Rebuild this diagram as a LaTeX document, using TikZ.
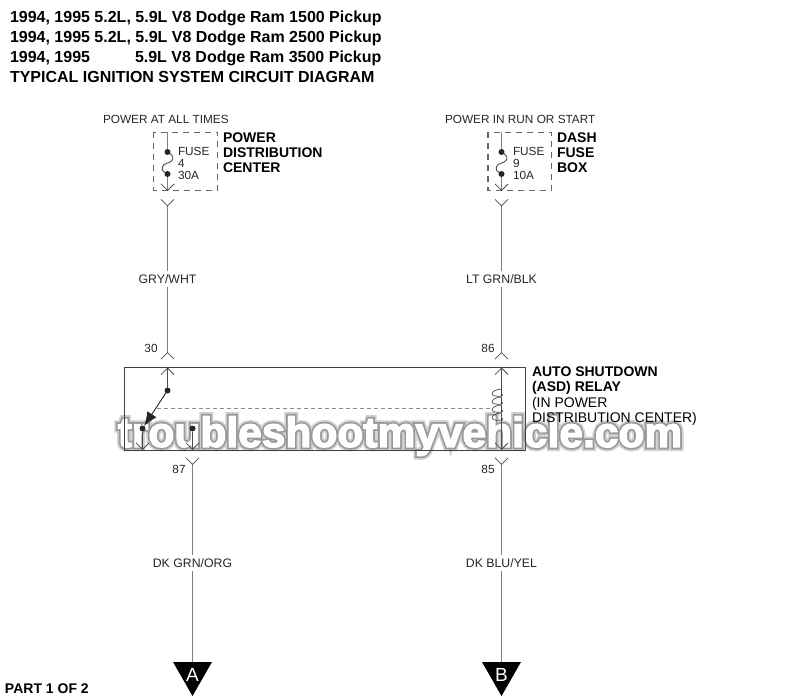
\documentclass[tikz,border=0pt]{standalone}
\usepackage{fontspec}
\setmainfont{Liberation Sans}
\newfontface\wmouter[FakeBold=19]{Liberation Sans Bold}
\newfontface\wminner[FakeBold=11]{Liberation Sans Bold}
\newfontface\wmcore[FakeBold=3]{Liberation Sans Bold}
\usetikzlibrary{arrows.meta,calc}

\tikzstyle{every node}+=[inner sep=0pt,outer sep=0pt]
\tikzstyle{heading}=[anchor=mid west,yshift=-3pt,font=\fontsize{16}{18}\selectfont\bfseries]
\tikzstyle{boldtext}=[anchor=mid west,yshift=-3pt,font=\fontsize{14}{16}\selectfont\bfseries]
\tikzstyle{plaintext}=[anchor=mid west,yshift=-3pt,font=\fontsize{14}{16}\selectfont]
\tikzstyle{smalltext}=[font=\fontsize{11.8}{14}\selectfont,text=black!85]
\tikzstyle{smallleft}=[smalltext,anchor=mid west,yshift=-2pt]
\tikzstyle{wirelabel}=[smalltext,font=\fontsize{12.3}{14}\selectfont,fill=white,inner ysep=3pt]
\tikzstyle{wire}=[draw=black!50,line width=1.2pt]
\tikzstyle{lead}=[draw=black!70,line width=0.9pt]
\tikzstyle{fusebox}=[draw=black!60,line width=1.2pt,dash pattern=on 6pt off 5pt]
\tikzstyle{dot}=[circle,fill=black!85,minimum size=6pt]
\tikzstyle{tipv}=[-{Straight Barb[length=6.5pt,width=13pt,line width=0.8pt,black!70]}]
\tikzstyle{tailv}=[{Straight Barb[length=6.5pt,width=13pt,line width=0.8pt,black!70]}-]
\tikzstyle{matev}=[{Straight Barb[reversed,length=6.5pt,width=13pt,line width=0.8pt,black!70]}-{Straight Barb[reversed,length=6.5pt,width=13pt,line width=0.8pt,black!70]}]
\tikzstyle{matestart}=[{Straight Barb[reversed,length=6.5pt,width=13pt,line width=0.8pt,black!70]}-]
\tikzstyle{flagtext}=[text=white,font=\fontsize{19}{19}\selectfont]

\begin{document}
\begin{tikzpicture}[x=1pt,y=-1pt]
\useasboundingbox (0,0) rectangle (800,700);

\node[heading] (line1) at (10,17) {1994, 1995 5.2L, 5.9L V8 Dodge Ram 1500 Pickup};
\node[heading] (line2) at (10,37) {1994, 1995 5.2L, 5.9L V8 Dodge Ram 2500 Pickup};
\node[heading] (line3) at (10,57) {1994, 1995};
\node[heading] (line3b) at (135,57) {5.9L V8 Dodge Ram 3500 Pickup};
\node[heading] (line4) at (10,77) {TYPICAL IGNITION SYSTEM CIRCUIT DIAGRAM};
\node[boldtext] (part) at (5,688) {PART 1 OF 2};

% watermark goes under the lines
\node[font=\wmouter\fontsize{42.5}{50}\selectfont,text=black!18] (wmo) at (400,436) {troubleshootmyvehicle.com};
\node[font=\wminner\fontsize{42.5}{50}\selectfont,text=black!40] (wmi) at (400,436) {troubleshootmyvehicle.com};
\node[font=\wmcore\fontsize{42.5}{50}\selectfont,text=white] (wm) at (400,436) {troubleshootmyvehicle.com};

\node[smallleft] (srcl) at (103,119) {POWER AT ALL TIMES};
\node[smallleft] (srcr) at (445,119) {POWER IN RUN OR START};

% left fuse
\draw[fusebox] (153.5,132.5) rectangle (217.5,190.5);
\coordinate (l0) at (167.5,132.5);
\node[dot] (l1) at (167.5,152) {};
\node[dot] (l2) at (167.5,174) {};
\coordinate (l3) at (167.5,191);
\coordinate (l4) at (167.5,199);
\coordinate (l5) at (167.5,359.5);
\draw[wire] (l0) -- (l1);
\draw[lead] (l1) .. controls (176,158) and (172,162) .. (167.5,163) .. controls (162,164) and (160,170) .. (l2);
\draw[wire,tipv] (l2) -- (l3);
\draw[wire,matev] (l4) -- (l5);
\node[smallleft] (fl1) at (178,151) {FUSE};
\node[smallleft] (fl2) at (178,163) {4};
\node[smallleft] (fl3) at (178,175) {30A};
\node[boldtext] (pd1) at (223,137) {POWER};
\node[boldtext] (pd2) at (223,152) {DISTRIBUTION};
\node[boldtext] (pd3) at (223,167) {CENTER};

% right fuse
\draw[fusebox] (488,132.5) rectangle (551.5,190.5);
\coordinate (r0) at (501.5,132.5);
\node[dot] (r1) at (501.5,152) {};
\node[dot] (r2) at (501.5,174) {};
\coordinate (r3) at (501.5,191);
\coordinate (r4) at (501.5,199);
\coordinate (r5) at (501.5,359.5);
\draw[wire] (r0) -- (r1);
\draw[lead] (r1) .. controls (510,158) and (506,162) .. (501.5,163) .. controls (496,164) and (494,170) .. (r2);
\draw[wire,tipv] (r2) -- (r3);
\draw[wire,matev] (r4) -- (r5);
\node[smallleft] (fr1) at (513,151) {FUSE};
\node[smallleft] (fr2) at (513,163) {9};
\node[smallleft] (fr3) at (513,175) {10A};
\node[boldtext] (db1) at (557,137) {DASH};
\node[boldtext] (db2) at (557,152) {FUSE};
\node[boldtext] (db3) at (557,167) {BOX};

\node[wirelabel] (gw) at (167.5,279) {GRY/WHT};
\node[wirelabel] (lg) at (501.5,279) {LT GRN/BLK};
\node[smalltext] (n30) at (151,348) {30};
\node[smalltext] (n86) at (488,348) {86};

% relay
\draw[black!75,line width=0.9pt] (124.5,367.5) rectangle (525,450);
\draw[black!45,line width=0.8pt,dash pattern=on 4pt off 3pt] (157,408.5) -- (491.5,408.5);
\coordinate (s0) at (167.5,367.5);
\node[dot] (s1) at (167.5,390.5) {};
\node[dot] (s2) at (142.5,428.5) {};
\node[dot] (s3) at (192.5,428.5) {};
\coordinate (s4) at (142.5,450);
\coordinate (s5) at (192.5,450);
\draw[lead,tailv] (s0) -- (s1);
\draw[black!85,line width=0.9pt,-{Latex[length=14pt,width=11pt]}] (s1) -- (s2);
\draw[lead,tipv] (s2) -- (s4);
\draw[lead,tipv] (s3) -- (s5);
\coordinate (c0) at (501.5,367.5);
\coordinate (c1) at (501.5,450);
\draw[lead,{Straight Barb[length=6.5pt,width=13pt,line width=0.8pt,black!70]}-{Straight Barb[length=6.5pt,width=13pt,line width=0.8pt,black!70]}] (c0) -- (c1);
\foreach \y in {389,397,405,413} {
  \draw[black!70,line width=0.7pt] (501.5,\y) .. controls (489,\y+1) and (489,\y+9) .. (501.5,\y+7) .. controls (503,\y+7) and (503,\y+5) .. (501.5,\y+4.5);
}
\node[boldtext] (as1) at (532,371) {AUTO SHUTDOWN};
\node[boldtext] (as2) at (532,386) {(ASD) RELAY};
\node[plaintext] (as3) at (532,402) {(IN POWER};
\node[plaintext] (as4) at (532,417) {DISTRIBUTION CENTER)};

% lower wires
\coordinate (a0) at (192.5,457.5);
\coordinate (b0) at (501.5,457.5);
\coordinate (a1) at (192.5,663);
\coordinate (b1) at (501.5,663);
\draw[wire,matestart] (a0) -- (a1);
\draw[wire,matestart] (b0) -- (b1);
\node[smalltext] (n87) at (179,469) {87};
\node[smalltext] (n85) at (488,469) {85};
\node[wirelabel] (dg) at (192.5,563) {DK GRN/ORG};
\node[wirelabel] (db) at (501.5,563) {DK BLU/YEL};

% connector flags
\fill[black] (173,662) -- (212,662) -- (192.5,696) -- cycle;
\fill[black] (482,662) -- (521,662) -- (501.5,696) -- cycle;
\node[flagtext] (fa) at (192.5,675) {A};
\node[flagtext] (fb) at (501.5,675) {B};
\end{tikzpicture}
\end{document}
